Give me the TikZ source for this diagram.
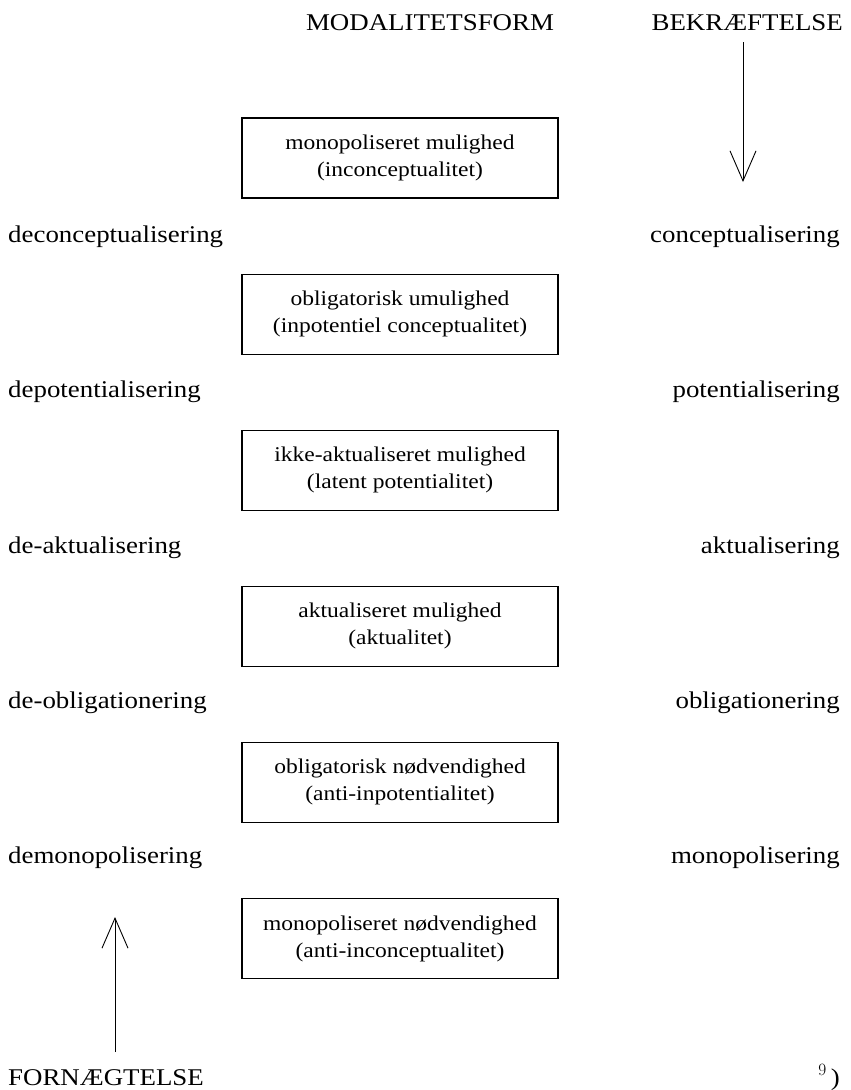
\documentclass[tikz,border=0pt]{standalone}
\usepackage{fontspec}
\setmainfont{Liberation Serif}[FakeStretch=1.12]
\usetikzlibrary{positioning,arrows.meta}

\begin{document}
\begin{tikzpicture}[
    x=1pt, y=-1pt,
    every node/.style={font=\fontsize{24}{28}\selectfont},
    box/.style={draw, line width=1.1pt, minimum width=316pt, minimum height=80pt, inner sep=0pt, align=center,
        font=\fontsize{21}{27}\selectfont},
    lbl/.style={inner sep=0pt, anchor=base west},
    rlbl/.style={inner sep=0pt, anchor=base east},
    arr/.style={-{Straight Barb[length=30pt, width=26pt]}, line width=0.9pt},
    node distance=75pt
]
\useasboundingbox (0,0) rectangle (851,1090);

% headings
\node[inner sep=0pt, anchor=base] (form) at (430,30) {MODALITETSFORM};
\node[rlbl] (bekr) at (843,30) {BEKR\AE FTELSE};

% the six modal forms
\node[box] (mm) at (400,158) {monopoliseret mulighed\\(inconceptualitet)};
\node[box, below=of mm] (ou) {obligatorisk umulighed\\(inpotentiel conceptualitet)};
\node[box, below=of ou] (im) {ikke-aktualiseret mulighed\\(latent potentialitet)};
\node[box, below=of im] (am) {aktualiseret mulighed\\(aktualitet)};
\node[box, below=of am] (on) {obligatorisk n\o dvendighed\\(anti-inpotentialitet)};
\node[box, below=of on] (mn) {monopoliseret n\o dvendighed\\(anti-inconceptualitet)};

% left column
\node[lbl] (dcon) at (8,242) {deconceptualisering};
\node[lbl] (dpot) at (8,397) {depotentialisering};
\node[lbl] (dakt) at (8,553) {de-aktualisering};
\node[lbl] (dobl) at (8,708) {de-obligationering};
\node[lbl] (dmon) at (8,863) {demonopolisering};

% right column
\node[rlbl] (con) at (840,242) {conceptualisering};
\node[rlbl] (pot) at (840,397) {potentialisering};
\node[rlbl] (akt) at (840,553) {aktualisering};
\node[rlbl] (obl) at (840,708) {obligationering};
\node[rlbl] (mon) at (840,863) {monopolisering};

\node[lbl] (forn) at (8,1085) {FORN\AE GTELSE};
\node[rlbl] (note) at (840,1085) {$^{9}$\,)};

\coordinate (btop) at (743,42);
\coordinate (bend) at (743,182);
\coordinate (fbot) at (115,1052);
\coordinate (fend) at (115,917);
\draw[arr] (btop) -- (bend);
\draw[arr] (fbot) -- (fend);
\end{tikzpicture}
\end{document}
